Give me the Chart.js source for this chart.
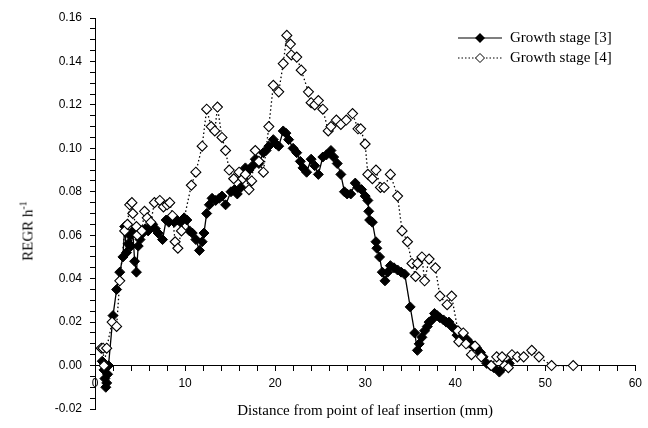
<!DOCTYPE html>
<html>
<head>
<meta charset="utf-8">
<script src="https://cdn.jsdelivr.net/npm/chart.js@4"></script>
<style>
  html, body { margin: 0; padding: 0; background: #fff; }
  #wrap { position: relative; width: 648px; height: 428px; }
  canvas { position: absolute; left: 0; top: 0; }
  .leg { position: absolute; left: 458px; font: 15px "Liberation Serif", "Times New Roman", serif; color: #000; display: flex; align-items: center; white-space: nowrap; }
  .leg svg { margin-right: 8px; }
  #ytitle { position: absolute; left: 28px; top: 231px; transform: translate(-50%, -50%) rotate(-90deg); font: 15px "Liberation Serif", "Times New Roman", serif; color: #000; white-space: nowrap; }
  #ytitle sup { font-size: 10px; vertical-align: 6px; line-height: 0; }
</style>
</head>
<body>
<div id="wrap">
  <canvas id="c" width="648" height="428"></canvas>
  <div id="ytitle">REGR h<sup>-1</sup></div>
  <div class="leg" style="top:29px;">
    <svg width="44" height="12"><line x1="0" y1="6" x2="44" y2="6" stroke="#000" stroke-width="1.2"/><polygon points="22,1 27,6 22,11 17,6" fill="#000"/></svg>
    <span>Growth stage [3]</span>
  </div>
  <div class="leg" style="top:49px;">
    <svg width="44" height="12"><line x1="0" y1="6" x2="44" y2="6" stroke="#000" stroke-width="1.2" stroke-dasharray="1.5 2"/><polygon points="22,1.5 26.5,6 22,10.5 17.5,6" fill="#fff" stroke="#000" stroke-width="1"/></svg>
    <span>Growth stage [4]</span>
  </div>
</div>
<script>
// ---- data ----
const seriesNames = ['Growth stage [3]', 'Growth stage [4]'];
const xTickLabels = [0, 10, 20, 30, 40, 50, 60];
const yTickLabels = ['-0.02', '0.00', '0.02', '0.04', '0.06', '0.08', '0.10', '0.12', '0.14', '0.16'];

const stage3X = [0.8,1.0,1.1,1.2,1.3,1.4,1.5,2.0,2.4,2.75,3.1,3.3,3.5,3.7,3.85,4.0,4.2,4.4,4.6,4.8,5.0,5.3,5.6,5.9,6.2,6.4,6.7,7.0,7.5,7.9,8.2,8.5,8.8,9.1,9.5,9.9,10.2,10.5,10.8,11.2,11.6,11.9,12.1,12.4,12.7,13.0,13.4,13.8,14.1,14.5,15.1,15.5,15.8,16.2,16.7,17.1,17.5,17.8,18.2,18.7,19.0,19.3,19.8,20.1,20.4,20.9,21.2,21.5,22.0,22.4,22.8,23.1,23.5,24.0,24.4,24.8,25.3,25.7,26.2,26.5,26.9,27.3,27.7,28.0,28.4,28.9,29.2,29.6,30.0,30.3,30.4,30.5,30.8,31.2,31.3,31.6,31.9,32.2,32.5,32.8,33.2,33.6,34.0,34.4,35.0,35.5,35.8,36.0,36.3,36.6,36.9,37.1,37.4,37.7,38.0,38.3,38.7,39.0,39.3,39.6,39.9,40.2,40.6,41.0,41.3,41.7,42.0,42.4,42.8,43.1,43.5,43.9,44.3,44.9,45.3,45.7,46.0];
const stage3Y = [0.002,-0.002,-0.006,-0.010,-0.008,-0.004,0.000,0.023,0.035,0.043,0.050,0.064,0.052,0.056,0.060,0.055,0.062,0.048,0.043,0.055,0.058,0.061,0.063,0.062,0.064,0.065,0.063,0.061,0.058,0.067,0.066,0.068,0.066,0.067,0.066,0.068,0.067,0.062,0.061,0.058,0.053,0.057,0.061,0.070,0.074,0.077,0.076,0.077,0.078,0.074,0.080,0.081,0.079,0.082,0.091,0.090,0.092,0.095,0.093,0.098,0.099,0.101,0.104,0.102,0.101,0.108,0.107,0.104,0.100,0.098,0.094,0.091,0.089,0.095,0.092,0.088,0.096,0.097,0.099,0.096,0.093,0.088,0.080,0.079,0.079,0.084,0.082,0.081,0.078,0.076,0.071,0.067,0.066,0.057,0.054,0.050,0.043,0.039,0.043,0.046,0.045,0.044,0.043,0.042,0.027,0.015,0.007,0.010,0.013,0.016,0.018,0.020,0.021,0.024,0.023,0.022,0.021,0.020,0.020,0.018,0.017,0.014,0.013,0.012,0.012,0.010,0.009,0.008,0.006,0.004,0.001,0.000,-0.001,-0.003,-0.001,0.000,0.001];

const stage4X = [0.7,0.9,1.0,1.3,1.9,2.4,2.75,3.3,3.6,3.85,4.1,4.2,4.6,4.7,5.2,5.5,5.8,6.2,6.6,7.2,7.6,8.0,8.3,8.6,8.9,9.2,9.6,10.7,11.2,11.9,12.4,12.9,13.3,13.6,14.1,14.5,14.9,15.4,16.0,16.4,16.7,17.1,17.4,17.8,18.2,18.7,19.3,19.8,20.4,20.9,21.3,21.7,21.8,22.4,22.9,23.7,24.0,24.4,24.8,25.3,25.9,26.2,26.8,27.3,27.9,28.6,29.2,29.5,30.0,30.3,30.8,31.2,31.7,32.1,32.8,33.6,34.1,34.7,35.2,35.6,35.8,36.3,36.6,37.1,37.8,38.3,39.1,39.6,40.3,40.4,40.9,41.2,41.8,42.2,42.9,44.0,44.6,45.2,45.5,45.9,46.3,46.9,47.6,48.5,49.3,50.7,53.1];
const stage4Y = [0.008,0.008,0.000,0.008,0.020,0.018,0.039,0.062,0.065,0.074,0.075,0.070,0.064,0.060,0.062,0.071,0.068,0.066,0.075,0.076,0.073,0.074,0.075,0.069,0.057,0.054,0.062,0.083,0.089,0.101,0.118,0.110,0.108,0.119,0.105,0.099,0.090,0.086,0.089,0.086,0.088,0.081,0.085,0.099,0.094,0.089,0.110,0.129,0.126,0.139,0.152,0.148,0.143,0.142,0.136,0.126,0.121,0.120,0.122,0.118,0.108,0.110,0.113,0.111,0.113,0.116,0.109,0.109,0.102,0.088,0.086,0.090,0.082,0.082,0.088,0.078,0.062,0.057,0.047,0.041,0.047,0.050,0.039,0.049,0.045,0.032,0.028,0.032,0.016,0.011,0.015,0.010,0.005,0.009,0.004,0.000,0.004,0.004,0.000,-0.001,0.005,0.004,0.004,0.007,0.004,0.000,0.000];

// ---- chart ----
const pts = (xs, ys) => xs.map((x, i) => ({ x: x, y: ys[i] }));
const tickFont = { family: '"Liberation Sans", Arial, sans-serif', size: 12 };
const titleFont = { family: '"Liberation Serif", "Times New Roman", serif', size: 15 };

new Chart(document.getElementById('c'), {
  type: 'line',
  data: {
    datasets: [
      {
        label: seriesNames[0],
        data: pts(stage3X, stage3Y),
        borderColor: '#000',
        borderWidth: 1.3,
        backgroundColor: '#000',
        pointStyle: 'rectRot',
        pointRadius: 5,
        pointBackgroundColor: '#000',
        pointBorderColor: '#000',
        pointBorderWidth: 1,
        tension: 0,
        order: 1
      },
      {
        label: seriesNames[1],
        data: pts(stage4X, stage4Y),
        borderColor: '#000',
        borderWidth: 1.3,
        borderDash: [1.5, 2.5],
        pointStyle: 'rectRot',
        pointRadius: 5,
        pointBackgroundColor: '#fff',
        pointBorderColor: '#000',
        pointBorderWidth: 1.1,
        tension: 0,
        order: 0
      }
    ]
  },
  options: {
    responsive: false,
    animation: false,
    devicePixelRatio: 1,
    layout: { padding: { left: 0, right: 1, top: 18, bottom: 19 } },
    plugins: { legend: { display: false }, tooltip: { enabled: false } },
    scales: {
      x: {
        type: 'linear',
        position: { y: 0 },
        min: 0, max: 60,
        border: { display: true, color: '#000', width: 1 },
        grid: { drawOnChartArea: false, drawTicks: true, tickLength: 5, color: '#000' },
        ticks: {
          stepSize: 2, autoSkip: false, maxRotation: 0, padding: 6, color: '#000', font: tickFont,
          callback: (v) => xTickLabels.includes(Math.round(v)) && Math.abs(v - Math.round(v)) < 1e-6 ? String(Math.round(v)) : ''
        },
        title: { display: true, text: 'Distance from point of leaf insertion (mm)', color: '#000', font: titleFont, padding: { top: 5, bottom: 0 } }
      },
      y: {
        type: 'linear',
        min: -0.02, max: 0.16,
        afterFit: (s) => { s.width = 95; },
        border: { display: true, color: '#000', width: 1 },
        grid: { drawOnChartArea: false, drawTicks: true, tickLength: 5, color: '#000' },
        ticks: {
          stepSize: 0.005, autoSkip: false, padding: 8, color: '#000', font: tickFont,
          callback: (v) => {
            const k = v / 0.02;
            if (Math.abs(k - Math.round(k)) < 1e-6) {
              const idx = Math.round(k) + 1;
              return yTickLabels[idx] !== undefined ? yTickLabels[idx] : '';
            }
            return '';
          }
        },
        title: { display: false }
      }
    }
  }
});
</script>
</body>
</html>
